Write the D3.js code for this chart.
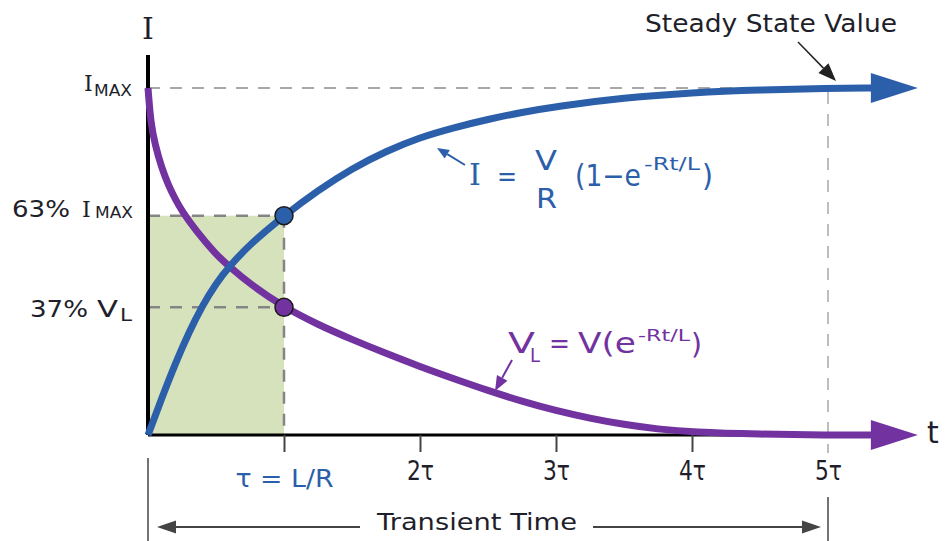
<!DOCTYPE html>
<html><head><meta charset="utf-8">
<script src="https://cdn.jsdelivr.net/npm/d3@7"></script>
<style>body{margin:0;background:#fff}svg{display:block}</style>
</head><body>
<svg id="c" width="947" height="541"></svg>
<script>
// ---- data ----
const iTime  = [0, 0.1, 0.2, 0.3, 0.4, 0.5, 0.6, 0.75, 1, 1.25, 1.5, 1.75, 2, 2.25, 2.5, 2.75, 3, 3.5, 4, 4.5, 5, 5.33];
const iValue = [0, 0.105, 0.205, 0.295, 0.373, 0.437, 0.487, 0.55, 0.632, 0.705, 0.768, 0.818, 0.858, 0.886, 0.91, 0.93, 0.947, 0.972, 0.987, 0.995, 0.999, 1];
const vTime  = [0, 0.02, 0.05, 0.1, 0.15, 0.2, 0.25, 0.35, 0.5, 0.6, 0.75, 1, 1.25, 1.5, 1.75, 2, 2.25, 2.5, 2.75, 3, 3.25, 3.5, 3.75, 4, 4.5, 5, 5.33];
const vValue = [1, 0.90, 0.84, 0.77, 0.72, 0.68, 0.645, 0.59, 0.52, 0.485, 0.435, 0.368, 0.318, 0.275, 0.235, 0.197, 0.162, 0.128, 0.097, 0.07, 0.048, 0.03, 0.017, 0.008, 0.002, 0, 0];
const tickValues = [1, 2, 3, 4, 5];
const tickLabels = ["τ = L/R", "2τ", "3τ", "4τ", "5τ"];
const tauValue = 1;
const iMarker = 0.632;
const vMarker = 0.368;
const steadyValue = 1;
const steadyTime = 5;

// ---- setup ----
const svg = d3.select("#c");
const x = d3.scaleLinear().domain([0, 5]).range([148, 828]);
const y = d3.scaleLinear().domain([0, 1]).range([435, 88]);
const BLUE = "#2c5fa9", PURPLE = "#7232a0", GREEN = "#d6e2bc", TEXT = "#1f1f2b";
const SANS = "'DejaVu Sans', Verdana, sans-serif";
const SERIF = "'DejaVu Serif', serif";

function txt(s, xp, yp, size, o = {}) {
  const t = svg.append("text").attr("x", xp).attr("y", yp)
    .attr("font-size", size).attr("font-family", o.family || SANS)
    .attr("fill", o.fill || TEXT).attr("text-anchor", o.anchor || "start").text(s);
  if (o.len) t.attr("textLength", o.len).attr("lengthAdjust", "spacingAndGlyphs");
  return t;
}
function arrow(x1, y1, x2, y2, color, w, hl, hw) {
  const a = Math.atan2(y2 - y1, x2 - x1);
  const bx = x2 - hl * Math.cos(a), by = y2 - hl * Math.sin(a);
  svg.append("line").attr("x1", x1).attr("y1", y1).attr("x2", bx).attr("y2", by)
    .attr("stroke", color).attr("stroke-width", w);
  const px = -Math.sin(a) * hw, py = Math.cos(a) * hw;
  svg.append("path").attr("d", `M${x2},${y2}L${bx + px},${by + py}L${bx - px},${by - py}Z`).attr("fill", color);
}
function dash(x1, y1, x2, y2, color, w) {
  svg.append("line").attr("x1", x1).attr("y1", y1).attr("x2", x2).attr("y2", y2)
    .attr("stroke", color).attr("stroke-width", w).attr("stroke-dasharray", "12,10");
}

// green region
svg.append("rect").attr("x", x(0)).attr("y", y(iMarker))
  .attr("width", x(tauValue) - x(0)).attr("height", y(0) - y(iMarker)).attr("fill", GREEN);

// dashed guides
dash(x(0), y(steadyValue), x(steadyTime), y(steadyValue), "#a8a8a8", 2);
dash(x(steadyTime), y(steadyValue) + 4, x(steadyTime), y(0) + 18, "#a8a8a8", 1.5);
dash(x(0), y(iMarker), x(tauValue), y(iMarker), "#858585", 2.5);
dash(x(0), y(vMarker), x(tauValue), y(vMarker), "#858585", 2.5);
dash(x(tauValue), y(iMarker), x(tauValue), y(0), "#858585", 2.5);

// axes
svg.append("line").attr("x1", x(0)).attr("x2", 873).attr("y1", y(0)).attr("y2", y(0))
  .attr("stroke", "#000").attr("stroke-width", 3);
svg.append("line").attr("x1", x(0)).attr("x2", x(0)).attr("y1", 55).attr("y2", y(0))
  .attr("stroke", "#000").attr("stroke-width", 4);

const ax = svg.append("g").attr("transform", `translate(0,${y(0)})`)
  .call(d3.axisBottom(x).tickValues(tickValues).tickSize(17).tickFormat((d, i) => tickLabels[i]));
ax.select(".domain").remove();
ax.selectAll(".tick line").attr("stroke", "#444").attr("stroke-width", 2)
  .filter(d => d === 5).remove();
ax.selectAll(".tick text")
  .attr("font-family", SANS).attr("font-size", 26).attr("fill", TEXT)
  .attr("dy", null).attr("y", 45)
  .attr("textLength", 27).attr("lengthAdjust", "spacingAndGlyphs");
ax.selectAll(".tick text").filter(d => d === 1)
  .attr("fill", BLUE).attr("font-size", 25).attr("y", 52).attr("textLength", 98);

// curves
const line = d3.line().x(d => x(d[0])).y(d => y(d[1])).curve(d3.curveBasis);
const vPts = vTime.map((t, i) => [t, vValue[i]]);
const iPts = iTime.map((t, i) => [t, iValue[i]]);
function head(pt, color) {
  const bx = x(pt[0]), by = y(pt[1]);
  svg.append("path").attr("d", `M${bx - 2},${by - 15}L${bx + 45},${by}L${bx - 2},${by + 15}Z`).attr("fill", color);
}
svg.append("path").datum(vPts).attr("d", line).attr("fill", "none").attr("stroke", PURPLE).attr("stroke-width", 7);
head(vPts[vPts.length - 1], PURPLE);
svg.append("path").datum(iPts).attr("d", line).attr("fill", "none").attr("stroke", BLUE).attr("stroke-width", 7);
head(iPts[iPts.length - 1], BLUE);

// marker dots
svg.append("circle").attr("cx", x(tauValue)).attr("cy", y(iMarker)).attr("r", 9)
  .attr("fill", BLUE).attr("stroke", "#1a1a1a").attr("stroke-width", 1.5);
svg.append("circle").attr("cx", x(tauValue)).attr("cy", y(vMarker)).attr("r", 9)
  .attr("fill", PURPLE).attr("stroke", "#1a1a1a").attr("stroke-width", 1.5);

// axis titles
txt("I", x(0), 39, 30, { family: SERIF, anchor: "middle" });
txt("t", 927, 443, 30);

// y labels
txt("I", 84, y(steadyValue) + 3, 22, { family: SERIF });
txt("MAX", 94, y(steadyValue) + 8, 15, { len: 38 });
txt("63%", 12, y(iMarker) + 1.5, 23, { len: 58 });
txt("I", 82, y(iMarker) + 1.5, 22, { family: SERIF });
txt("MAX", 95, y(iMarker) + 2.5, 15, { len: 38 });
txt("37%", 30, y(vMarker) + 9.5, 23, { len: 58 });
txt("V", 97, y(vMarker) + 9.5, 23, { len: 21 });
txt("L", 120, y(vMarker) + 13.5, 18, { len: 12 });

// I formula
txt("I", 469, 185, 30, { family: SERIF, fill: BLUE });
txt("=", 497, 186, 28, { fill: BLUE, len: 20 });
txt("V", 535, 170, 27, { fill: BLUE, len: 22 });
txt("R", 536, 208, 27, { fill: BLUE, len: 21 });
txt("(1−e", 575, 186, 30, { fill: BLUE, len: 66 });
txt("-Rt/L", 644, 170, 18, { fill: BLUE, len: 56 });
txt(")", 702, 186, 30, { fill: BLUE, len: 11 });
arrow(465, 165, 437, 148, BLUE, 2, 12, 5);

// VL formula
txt("V", 508, 353, 29, { fill: PURPLE, len: 27 });
txt("L", 530, 362, 19, { fill: PURPLE, len: 10 });
txt("=", 549, 353, 28, { fill: PURPLE, len: 21 });
txt("V(e", 578, 353, 29, { fill: PURPLE, len: 58 });
txt("-Rt/L", 638, 341, 16, { fill: PURPLE, len: 52 });
txt(")", 691, 354, 29, { fill: PURPLE, len: 11 });
arrow(512, 360, 495, 391, PURPLE, 2, 15, 6);

// steady state annotation
txt("Steady State Value", 645, 32, 24, { len: 252 });
arrow(798, 42, 836, 81, "#222", 1.5, 18, 7);

// transient time annotation
svg.append("line").attr("x1", x(0)).attr("x2", x(0)).attr("y1", 458).attr("y2", 541).attr("stroke", "#444").attr("stroke-width", 1.5);
svg.append("line").attr("x1", x(steadyTime)).attr("x2", x(steadyTime)).attr("y1", 497).attr("y2", 541).attr("stroke", "#444").attr("stroke-width", 1.5);
arrow(360, 527, 157, 527, "#444", 1.8, 19, 6.5);
arrow(593, 527, 821, 527, "#444", 1.8, 19, 6.5);
txt("Transient Time", 377, 530, 23, { len: 200 });
</script>
</body></html>
